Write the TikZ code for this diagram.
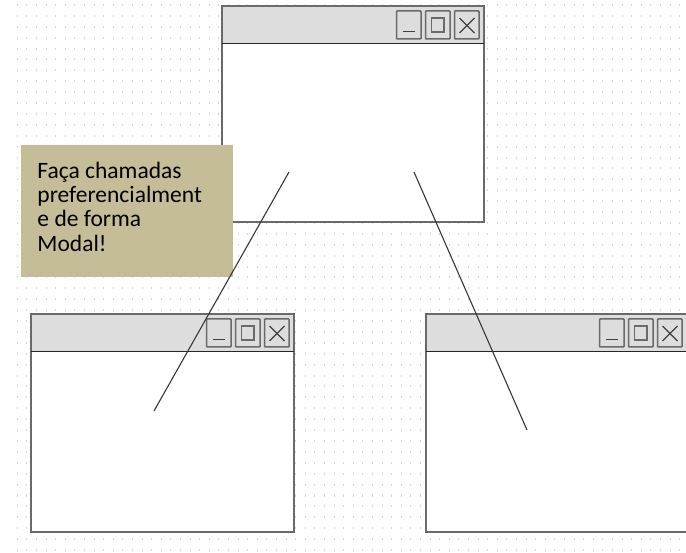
\documentclass[tikz,border=0pt]{standalone}
\usepackage{fontspec}
\setmainfont{Carlito}
\usetikzlibrary{calc}
\definecolor{frame}{HTML}{6A6A6A}
\definecolor{bar}{HTML}{DDDDDD}
\definecolor{notefill}{HTML}{C4BD97}
\definecolor{dotc}{HTML}{D8D8D8}
\tikzset{
  winframe/.style={draw=frame, line width=1.8pt, fill=white, inner sep=0pt, outer sep=0pt, rectangle, anchor=north west},
  titlebar/.style={draw=frame, line width=1.8pt, fill=bar, inner sep=0pt, outer sep=0pt, rectangle, anchor=north west},
  barline/.style={draw=black!85, line width=1.4pt},
  btnbox/.style={draw=frame, line width=1.5pt, fill=bar, inner sep=0pt, outer sep=0pt, rectangle, rounded corners=0.8pt, anchor=north east, minimum width=24.5pt, minimum height=28pt},
  glyph/.style={draw=black!75, line width=1.1pt},
  glyphsq/.style={draw=frame, line width=1.6pt},
  notebox/.style={fill=notefill, inner sep=0pt, outer sep=0pt, rectangle, anchor=north west},
  notetext/.style={font=\fontsize{23.5}{24}\selectfont, text=black, inner sep=0pt, anchor=base west},
  link/.style={draw=black!78, line width=1.1pt},
}
% #1 name, #2 x1, #3 y1, #4 x2, #5 y2
\newcommand{\mkwindow}[5]{%
  \node[winframe, minimum width={(#4-#2)*1pt}, minimum height={(#5-#3)*1pt}] (#1) at (#2,#3) {};
  \node[titlebar, minimum width={(#4-#2)*1pt}, minimum height=37.5pt] (#1bar) at (#2,#3) {};
  \draw[barline] (#1bar.south west) -- (#1bar.south east);
  \node[btnbox] (#1close) at ({#4-5},{#3+5}) {};
  \node[btnbox] (#1max) at ({#4-34},{#3+5}) {};
  \node[btnbox] (#1min) at ({#4-63},{#3+5}) {};
  \draw[glyph] ([xshift=6pt,yshift=-20.5pt]#1min.north west) -- ++(12.5,0);
  \draw[glyphsq] ([xshift=6pt,yshift=-7pt]#1max.north west) rectangle ++(12.3,14);
  \draw[glyph] ([xshift=5pt,yshift=-7pt]#1close.north west) -- ++(15,15);
  \draw[glyph] ([xshift=20pt,yshift=-7pt]#1close.north west) -- ++(-15,15);
}
\begin{document}
\begin{tikzpicture}[x=1pt,y=-1pt]
\useasboundingbox (0,0) rectangle (686,553);
\clip (0,0) rectangle (686,553);
\fill[white] (0,0) rectangle (686,553);
% dot grid
\foreach \i in {0,...,69}{
  \foreach \j in {0,...,50}{
    \fill[dotc] ({17.3+9.6*\i-0.5},{5+10.9*\j-1}) rectangle ++(1,2);
  }
}
% windows
\mkwindow{top}{222}{6}{484}{222}
\mkwindow{left}{31}{314}{294}{532}
\mkwindow{right}{426}{314}{687}{532}
% note
\node[notebox, minimum width=212pt, minimum height=132pt] (note) at (21,145) {};
\node[notetext] (t1) at (37.3,178.3) {Faça chamadas};
\node[notetext] (t2) at (37.3,202.6) {preferencialment};
\node[notetext] (t3) at (37.3,226.9) {e de forma};
\node[notetext] (t4) at (37.3,251.2) {Modal!};
% connectors
\coordinate (a1) at (289,172);
\coordinate (b1) at (154,411);
\coordinate (a2) at (414,172);
\coordinate (b2) at (527,430);
\draw[link] (a1) -- (b1);
\draw[link] (a2) -- (b2);
\end{tikzpicture}
\end{document}
